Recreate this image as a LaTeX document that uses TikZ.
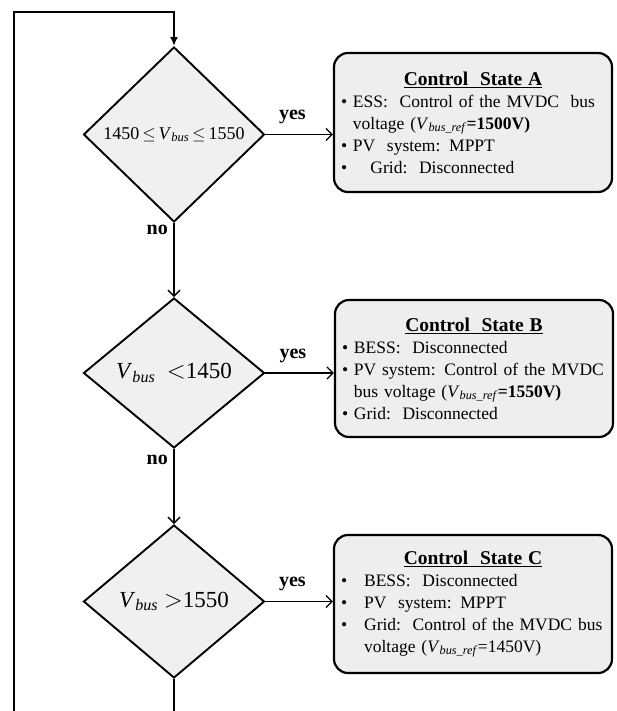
\documentclass[tikz,border=0pt]{standalone}
\usepackage{fontspec}
\setmainfont{Liberation Serif}
\usetikzlibrary{arrows.meta, shapes.geometric, calc}
\definecolor{DFill}{HTML}{F0F0F0}
\definecolor{BFill}{HTML}{EEEEEE}
\newcommand{\Vbus}{\textit{V}\textsubscript{\textit{bus}}}
\newcommand{\Vref}{\textit{V}\textsubscript{\textit{bus\_ref}}}
\newcommand{\StateTitle}[1]{\makebox[264pt]{\bfseries\fontsize{19.5}{22}\selectfont\underline{#1}}}
\newcommand{\Ind}{\phantom{\textbullet\ }}

\begin{document}
\begin{tikzpicture}[x=1pt, y=-1pt,
    cond/.style={diamond, draw, line width=1.9pt, fill=DFill, inner sep=0pt,
        minimum width=181pt, font=\fontsize{23}{25}\selectfont},
    state/.style={draw, line width=2.2pt, rounded corners=14pt, fill=BFill,
        text width=264pt, inner xsep=7pt, align=left,
        font=\fontsize{17.5}{22}\selectfont},
    link/.style={line width=1.8pt},
    yesarrow/.style={link, -{Straight Barb[length=6pt, width=12pt, line width=1.3pt]}},
    ans/.style={font=\bfseries\fontsize{20}{22}\selectfont}]
\useasboundingbox (0,0) rectangle (616,711);

% loop corners
\coordinate (loopB) at (14,711);
\coordinate (loopT) at (14,12);

% decisions
\node[cond, minimum height=175pt, font=\fontsize{18}{22}\selectfont] (dA) at (174,134.5)
    {1450$\,\le\,$\Vbus$\,\le\,$1550};
\node[cond, minimum height=150pt] (dB) at (174,373) {\Vbus\ \ $<$1450};
\node[cond, minimum height=153pt] (dC) at (174,601.5) {\Vbus\ $>$1550};

% control states
\node[state, minimum height=139pt] (stA) at (473,122.5) {%
    \StateTitle{Control\ \ State A}\\
    \mbox{\textbullet\ ESS:\ \ Control of the MVDC\ \ bus}\\
    \Ind voltage (\Vref\textbf{=1500V)}\\
    \textbullet\ PV\ \ system: MPPT\\
    \textbullet\ \ \ \ Grid:\ \ Disconnected};
\node[state, minimum height=137pt] (stB) at (474,368.5) {%
    \StateTitle{Control\ \ State B}\\
    \textbullet\ BESS:\ \ Disconnected\\
    \mbox{\textbullet\ PV\ system: Control of the MVDC}\\
    \mbox{\Ind bus voltage (\Vref\textbf{=1550V)}}\\
    \textbullet\ Grid:\ \ Disconnected};
\node[state, minimum height=138pt] (stC) at (473,604) {%
    \StateTitle{Control\ \ State C}\\
    \textbullet\hspace{17pt}BESS:\ \ Disconnected\\
    \textbullet\hspace{17pt}PV\ \ system: MPPT\\
    \mbox{\textbullet\hspace{17pt}Grid:\ \ Control of the MVDC\ bus}\\
    \phantom{\textbullet}\hspace{17pt}voltage (\Vref=1450V)};

% flow
\draw[line width=2.4pt, -{Latex[length=9pt, width=8pt]}]
    (loopB) -- (loopT) -- (dA.north |- loopT) -- (dA.north);
\draw[yesarrow] (dA.east) -- (dA.east -| stA.west) node[ans, pos=0.4, above=6pt] {yes};
\draw[yesarrow] (dB.east) -- (dB.east -| stB.west) node[ans, pos=0.4, above=6pt] {yes};
\draw[yesarrow] (dC.east) -- (dC.east -| stC.west) node[ans, pos=0.4, above=6pt] {yes};
\draw[yesarrow] (dA.south) -- (dB.north) node[ans, pos=0.1, left=2pt] {no};
\draw[yesarrow] (dB.south) -- (dC.north) node[ans, pos=0.15, left=2pt] {no};
\draw[link] (dC.south) -- (dC.south |- loopB);

\end{tikzpicture}
\end{document}
